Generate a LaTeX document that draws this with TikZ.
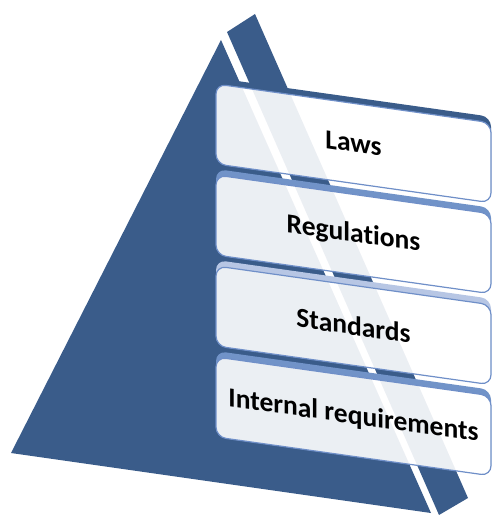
\documentclass[tikz,border=0pt]{standalone}
\usepackage{fontspec}
\setmainfont{Carlito}[Ligatures=CommonOff]
\definecolor{pyramid}{HTML}{3A5C8A}
\definecolor{bandmid}{HTML}{7193C8}
\definecolor{bandlight}{HTML}{B7C6E4}
\definecolor{tierline}{HTML}{6F8FC8}

\begin{document}
\begin{tikzpicture}[x=1pt,y=1pt,
  tier/.style={draw=tierline, line width=1.2pt, rounded corners=10pt, fill=white,
    fill opacity=0.9, text opacity=1, minimum width=275pt, minimum height=80pt,
    inner sep=0pt, font=\fontsize{27.5}{32}\selectfont\bfseries, transform shape},
  band/.style={even odd rule, rounded corners=10pt}]

\useasboundingbox (0,0) rectangle (493,-516);

\fill[pyramid] (221,-40) -- (11,-453) -- (431,-513) -- cycle;
\fill[pyramid] (227,-32) -- (255,-14) -- (468,-498) -- (439,-515) -- cycle;

\begin{scope}[shift={(216,0)}, yslant=-0.141]

\fill[band, pyramid] (0,-78) rectangle (275,-164) (0,-84) rectangle (275,-164);
\node[tier] (laws) at (137.5,-124) {Laws};

\fill[band, bandmid] (0,-169) rectangle (275,-255) (0,-175) rectangle (275,-255);
\node[tier] (regulations) at (137.5,-215) {Regulations};

\fill[band, bandlight] (0,-260) rectangle (275,-346) (0,-266) rectangle (275,-346);
\node[tier] (standards) at (137.5,-306) {Standards};

\fill[band, bandmid] (0,-351) rectangle (275,-437) (0,-357) rectangle (275,-437);
\node[tier] (internal) at (137.5,-397) {Internal requirements};

\end{scope}

\end{tikzpicture}
\end{document}
